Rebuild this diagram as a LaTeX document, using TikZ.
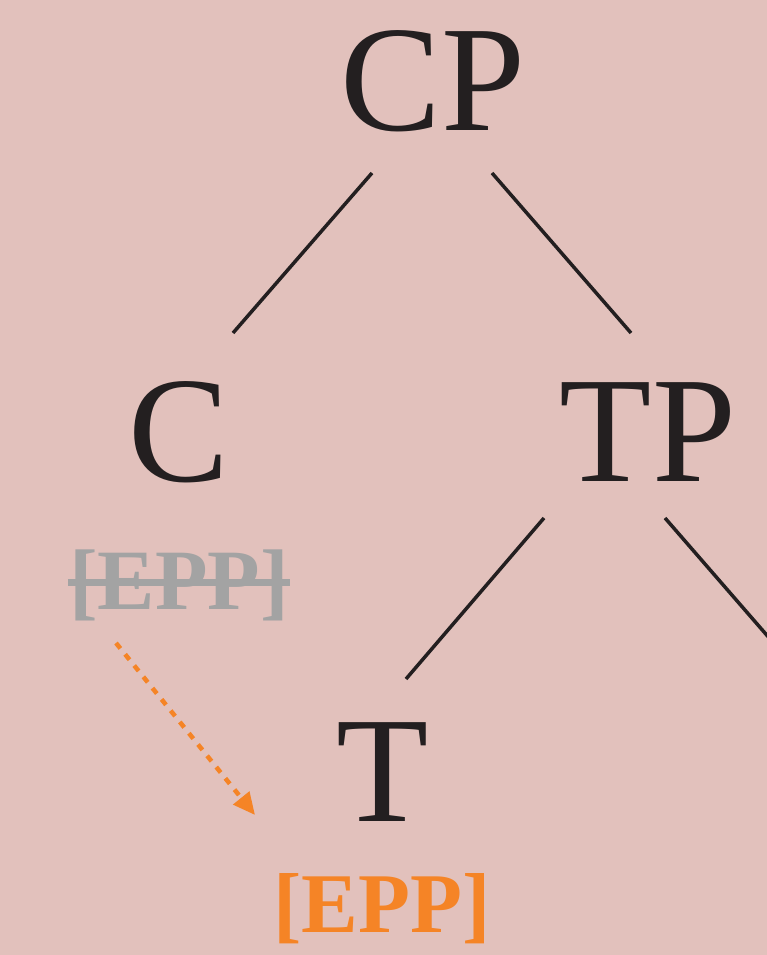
\documentclass[tikz,border=0pt]{standalone}
\usepackage{fontspec}
\setmainfont{Liberation Serif}
\usetikzlibrary{calc,arrows.meta}
\definecolor{bg}{HTML}{E2C1BC}
\definecolor{ink}{HTML}{231F20}
\definecolor{greyepp}{HTML}{A3A3A3}
\definecolor{orangeepp}{HTML}{F58426}
\tikzset{
  big/.style={inner sep=0pt, anchor=base, text=ink, font=\fontsize{151}{151}\selectfont},
  feat/.style={inner sep=0pt, anchor=base, text=greyepp, font=\bfseries\fontsize{86}{86}\selectfont},
  featnew/.style={inner sep=0pt, anchor=base, text=orangeepp, font=\bfseries\fontsize{85}{85}\selectfont},
  branch/.style={draw=ink, line width=3.5pt},
  move/.style={draw=orangeepp, line width=4.5pt, dash pattern=on 7pt off 7.5pt, -{Triangle[length=22pt,width=20pt]}}
}
\begin{document}
\begin{tikzpicture}[x=1pt,y=1pt]
\fill[bg] (0,0) rectangle (767,955);
\useasboundingbox (0,0) rectangle (767,955);
\clip (0,0) rectangle (767,955);
\node[big] (CP) at (433,824) {CP};
\node[big] (C) at (179,473) {C};
\node[big] (TP) at (648,473) {TP};
\node[big] (T) at (383,133) {T};
\node[feat] (gEPP) at (179,345) {[EPP]};
\node[featnew] (oEPP) at (382,22) {[EPP]};
\coordinate (R) at (804,277);
\draw[branch] ($(CP.base)+(-61,-42)$) -- ($(C.base)+(54,149)$);
\draw[branch] ($(CP.base)+(59,-42)$) -- ($(TP.base)+(-17,149)$);
\draw[branch] ($(TP.base)+(-104,-36)$) -- ($(T.base)+(23,143)$);
\draw[branch] ($(TP.base)+(17,-36)$) -- (R);
\draw[greyepp, line width=7pt] ($(gEPP.base west)+(-1,27)$) -- ($(gEPP.base east)+(1,27)$);
\draw[move] ($(gEPP.base)+(-63,-33)$) -- ($(oEPP.base)+(-127,118)$);
\end{tikzpicture}
\end{document}
